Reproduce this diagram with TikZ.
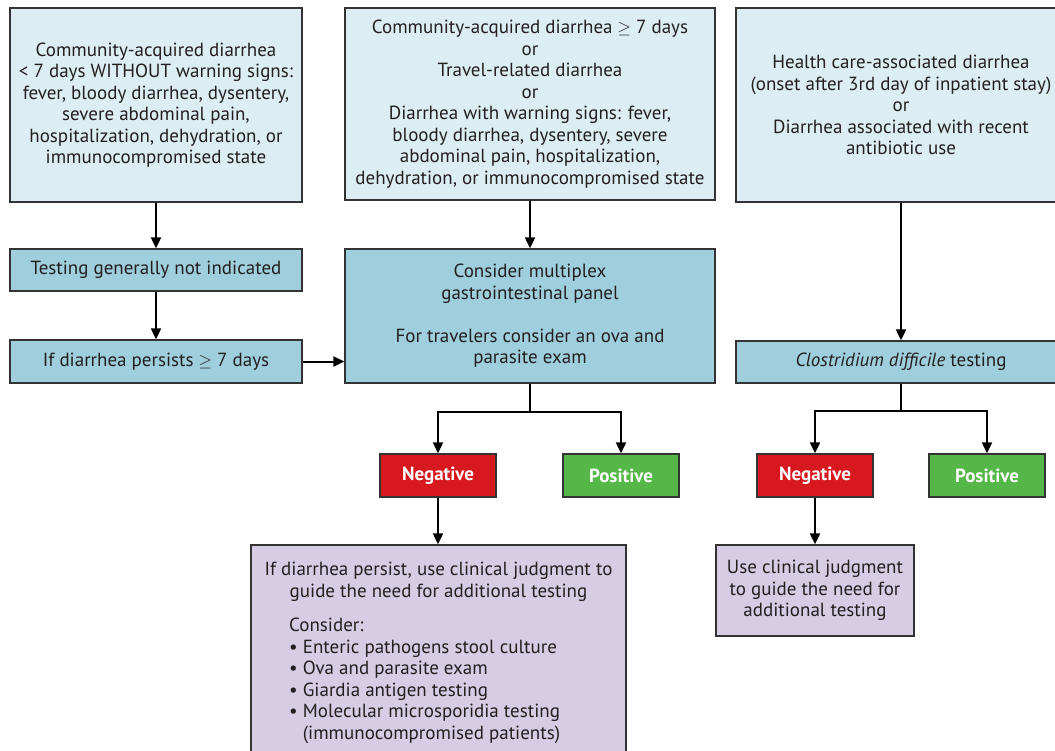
\documentclass[tikz,border=0pt]{standalone}
\usepackage{fontspec}
\setmainfont{PT Sans}
\usetikzlibrary{arrows.meta}
\definecolor{lblue}{HTML}{DCEEF3}
\definecolor{mblue}{HTML}{9FCEDC}
\definecolor{lpurp}{HTML}{D6CCE3}
\definecolor{nred}{HTML}{D7191F}
\definecolor{pgreen}{HTML}{55B748}
\definecolor{bord}{HTML}{333333}
\definecolor{txtc}{HTML}{231F20}
\newcommand{\gex}{\ensuremath{\geq}}
\begin{document}
\begin{tikzpicture}[x=1pt,y=-1pt,
  fnt/.style={font=\fontsize{19}{21.5}\selectfont},
  box/.style={draw=bord,line width=1.3pt,inner sep=0pt,align=center,text=txtc,fnt},
  topbox/.style={box,fill=lblue},
  midbox/.style={box,fill=mblue},
  purbox/.style={box,fill=lpurp},
  resbox/.style={box,text=white,font=\fontsize{19}{21.5}\selectfont\bfseries,minimum width=116pt,minimum height=43pt},
  negbox/.style={resbox,fill=nred},
  posbox/.style={resbox,fill=pgreen},
  plain/.style={inner sep=0pt,text=txtc,fnt},
  arr/.style={line width=2pt,-{Triangle[length=11pt,width=10pt]}},
  ]
\useasboundingbox (0,0) rectangle (1055,750);
% top row
\node[topbox,minimum width=292pt,minimum height=194pt] (A) at (156,105)
  {Community-acquired diarrhea\\< 7 days WITHOUT warning signs:\\fever, bloody diarrhea, dysentery,\\severe abdominal pain,\\hospitalization, dehydration, or\\immunocompromised state};
\node[topbox,minimum width=370pt,minimum height=192pt] (B) at (530,104)
  {Community-acquired diarrhea \gex{} 7 days\\or\\Travel-related diarrhea\\or\\Diarrhea with warning signs: fever,\\bloody diarrhea, dysentery, severe\\abdominal pain, hospitalization,\\dehydration, or immunocompromised state};
\node[topbox,minimum width=330pt,minimum height=194pt] (C) at (901,105)
  {Health care-associated diarrhea\\(onset after 3rd day of inpatient stay)\\or\\Diarrhea associated with recent\\antibiotic use};
% second row
\node[midbox,minimum width=292pt,minimum height=42pt] (T) at (156,270) {Testing generally not indicated};
\node[midbox,minimum width=292pt,minimum height=43pt] (P) at (156,361.5) {If diarrhea persists \gex{} 7 days};
\node[midbox,minimum width=370pt,minimum height=134pt] (M) at (530,316)
  {Consider multiplex\\gastrointestinal panel\\[21.5pt]For travelers consider an ova and\\parasite exam};
\node[midbox,minimum width=330pt,minimum height=42pt] (CD) at (901,362) {\textit{Clostridium difficile} testing};
% results
\node[negbox] (N1) at (438,475.5) {Negative};
\node[posbox] (Q1) at (621,475.5) {Positive};
\node[negbox] (N2) at (815,475.5) {Negative};
\node[posbox] (Q2) at (987,475.5) {Positive};
% purple boxes
\node[purbox,minimum width=375pt,minimum height=215pt] (U1) at (438.5,652.5) {};
\node[plain,align=center,anchor=north] (U1h) at (438.5,562)
  {If diarrhea persist, use clinical judgment to\\guide the need for additional testing};
\node[plain,align=left,anchor=north west] (U1l) at (289,618)
  {Consider:\\• Enteric pathogens stool culture\\• Ova and parasite exam\\• Giardia antigen testing\\• Molecular microsporidia testing\\\phantom{• }(immunocompromised patients)};
\node[purbox,minimum width=198pt,minimum height=91pt] (U2) at (815,590.5)
  {Use clinical judgment\\to guide the need for\\additional testing};
% connectors
\draw[arr] (A.south) -- (T.north);
\draw[arr] (T.south) -- (P.north);
\draw[arr] (P.east) -- (P.east -| M.west);
\draw[arr] (B.south) -- (M.north);
\draw[line width=2pt] (M.south) -- ++(0,28) coordinate (m1);
\draw[arr] (m1) -| (N1.north);
\draw[arr] (m1) -| (Q1.north);
\draw[arr] (N1.south) -- (N1.south |- U1.north);
\draw[arr] (C.south) -- (CD.north);
\draw[line width=2pt] (CD.south) -- ++(0,27) coordinate (c1);
\draw[arr] (c1) -| (N2.north);
\draw[arr] (c1) -| (Q2.north);
\draw[arr] (N2.south) -- (N2.south |- U2.north);
\end{tikzpicture}
\end{document}
